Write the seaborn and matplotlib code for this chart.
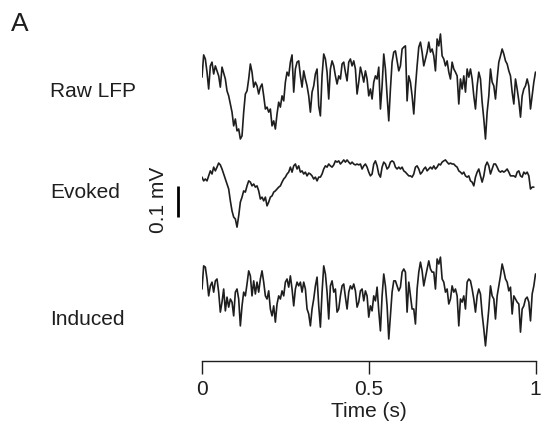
import numpy as np
import pandas as pd
import matplotlib
matplotlib.use("Agg")
import matplotlib.pyplot as plt
import seaborn as sns

# ---- data (µV), sampled every 5 ms ----
raw_lfp = [
    38, 109, 96, 54, 0, 74, 86, 48, 74, 58, 42, 6, 70, 51, 32, -6, -22, -48, -74, -118,
    -96, -134, -128, -160, -150, -74, -16, -6, 32, 80, 54, 6, 22, 10, -16, 6, 16, -22, -64, -58,
    -74, -64, -118, -102, -128, -80, -42, -58, -22, -38, 22, 54, 42, 86, 109, -10, 64, 86, 90, 42,
    6, 58, 32, 10, -22, -74, -10, 10, 48,
    64, -54, -86, 42, 112, 96, 54, -32, 64, 90, 74, 42, 16, 42, 32, 80, 86, 54, 26, 86,
    96, 74, 90, 64, -16, 22, 70, 48, 22, 58, 32, -22, 0, -32, 22, 42, 32, 70, -64, 10,
    112, 64, -22, -102, 0, 86, 118, 122, 90, 58, 74, 128, 134, 138, -38, 42, 22, -22, -80, 6,
    74, 134, 150, 118, 74, 96, 118, 150,
    118, 128, 106, 58, 160, 138, 176, 106, 96, 74, 90, 54, 32, 86, 64, 54, 42, -48, 32, 0,
    42, -10, 64, 38, 64, 32, -22, -64, 10, 54, 32, -42, -96, -160, -74, -22, 64, 22, 10, -32,
    32, 86, 106, 128, 112, 90, 80, 58, 42, -10, -48, 32, 0, -38, -90, -22, 0, 10, 32, 10,
    -64, -22, 22, 54,
]
evoked = [
    6, -6, 0, -6, 10, 26, 16, 38, 26, 38, 51, 45, 32, 16, 0, -16, -32, -70, -102, -122,
    -128, -154, -118, -74, -58, -38, -42, -22, -6, -10, -22, -16, -26, -22, -38, -64, -58, -70, -58, -86,
    -74, -58, -54, -42, -38, -32, -26, -22, -10, 0, 6, 16, 22, 38, 22, 42, 48, 32, 42, 22,
    26, 16, 22, 10, 19, 16, 10, 0, 6, -6, 6,
    6, 16, 32, 42, 38, 48, 42, 38, 45, 58, 54, 58, 48, 54, 61, 54, 61, 54, 48, 54,
    48, 45, 48, 45, 48, 32, 42, 48, 38, 22, 10, 16, 48, 58, 42, 16, 6, 38, 54, 48,
    32, 38, 54, 58, 54, 38, 32, 38, 32, 38, 26, 22, 16, 10, 10, 6, 16, 38, 42, 32,
    16, 22, 32, 38, 26, 32, 38, 32, 42, 32, 38, 48, 45, 54, 58, 61, 54, 48, 51, 48,
    48, 42, 38, 26, 22, 16, 22, 10, 6, 10, -6, -10, -22, 6, 22, 32, 10, -10, 10, 42,
    54, 42, 16, 32, 48, 48, 38, 26, 22, 26, 22, 26, 32, 22, 10, 10, 10, 6, 22, 26,
    10, 6, 22, 16, 22, 10, -32, -26, -26,
]
induced = [
    16, 90, 86, 48, -6, 26, 38, 6, 42, 48, 6, -58, -26, 16, -54, -10, -42, -16, -26, -70,
    6, 16, -16, -102, -38, 6, -6, 32, 74, 58, -6, 42, 0, 38, 6, 48, 74, 38, -6, -16,
    10, -48, -70, -38, -90, -32, -6, -16, 10, -6, 38, 48, 22, 58, 16, -38, 16, 38, 26, 38,
    6, 38, 16, -48, -64, -102, -48, -16, 26,
    54, -38, -106, 6, 90, 64, 6, -80, 26, 42, 6, 16, -58, -48, -6, 26, 32, -10, -48, 6,
    26, 16, 32, 10, -42, -26, 10, 16, -22, 10, -6, -74, -38, -54, -6, -22, 22, -54, -118, -6,
    64, 26, -38, -144, -70, 6, 42, 42, 26, 10, 22, 70, 80, 70, -58, 38, -6, -48, -48, -96,
    16, 70, 102, 74, 26, 54, 80, 106,
    80, 70, 70, 16, 112, 96, 118, 48, 38, 6, 16, -32, -16, 26, 6, 16, -6, -102, -16, -26,
    -6, -48, 38, 48, 42, 16, -16, -58, -6, 16, 0, -64, -112, -166, -106, -48, 26, -6, -16, -80,
    -6, 26, 58, 96, 74, 48, 38, 10, 22, -64, -6, -16, -26, -32, -122, -48, -38, -16, -10, -26,
    -86, 0, 26, 64,
]
trace_names = ["Raw LFP", "Evoked", "Induced"]
dt = 0.005  # sampling interval (s)
x_ticks = [0, 0.5, 1]
x_tick_labels = ["0", "0.5", "1"]
scale_bar_uV = 100

# vertical stacking offsets (µV)
offsets = {"Raw LFP": 656, "Evoked": 368, "Induced": 0}
series = {"Raw LFP": raw_lfp, "Evoked": evoked, "Induced": induced}

frames = []
for name in trace_names:
    vals = np.asarray(series[name], dtype=float)
    frames.append(pd.DataFrame({
        "time": np.arange(len(vals)) * dt,
        "value": vals + offsets[name],
        "trace": name,
    }))
df = pd.concat(frames, ignore_index=True)

sns.set_style("ticks")
plt.rcParams["font.family"] = ["Liberation Sans", "DejaVu Sans"]

W, H = 545, 431
FS = 15
fig = plt.figure(figsize=(W / 100, H / 100), dpi=100)
ax = fig.add_axes([202 / W, (H - 362) / H, 333.5 / W, 342 / H])

sns.lineplot(data=df, x="time", y="value", units="trace", estimator=None,
             sort=False, color="#1e1e1e", linewidth=1.2, ax=ax)

ax.set_xlim(0, 1)
ax.set_ylim(-214.4, 880)
ax.set_yticks([])
ax.set_ylabel("")
sns.despine(ax=ax, left=True, top=True, right=True)
ax.spines["bottom"].set_linewidth(1.0)
ax.spines["bottom"].set_color("#1e1e1e")
ax.set_xticks(x_ticks)
ax.set_xticklabels(x_tick_labels)
ax.tick_params(axis="x", direction="out", length=9, width=1.0, pad=4,
               labelsize=FS, colors="#1e1e1e")
ax.set_xlabel("Time (s)", fontsize=FS, labelpad=2, color="#1e1e1e")

# scale bar
bx = (178 - 202) / 334
y0 = (295 - 218) * 3.2
ax.plot([bx, bx], [y0, y0 + scale_bar_uV], color="black", lw=2.0, clip_on=False,
        solid_capstyle="butt")
fig.text(159 / W, 1 - 200 / H, "0.1 mV", rotation=90, ha="center", va="center",
         fontsize=FS, color="#1e1e1e")

# trace labels
label_y = {"Raw LFP": 92, "Evoked": 193, "Induced": 320}
for name in trace_names:
    fig.text(50 / W, 1 - label_y[name] / H, name, ha="left", va="center",
             fontsize=FS, color="#1e1e1e")

fig.text(11 / W, 1 - 24 / H, "A", ha="left", va="center", fontsize=19, color="#1e1e1e")

fig.savefig("out.png", dpi=100)
